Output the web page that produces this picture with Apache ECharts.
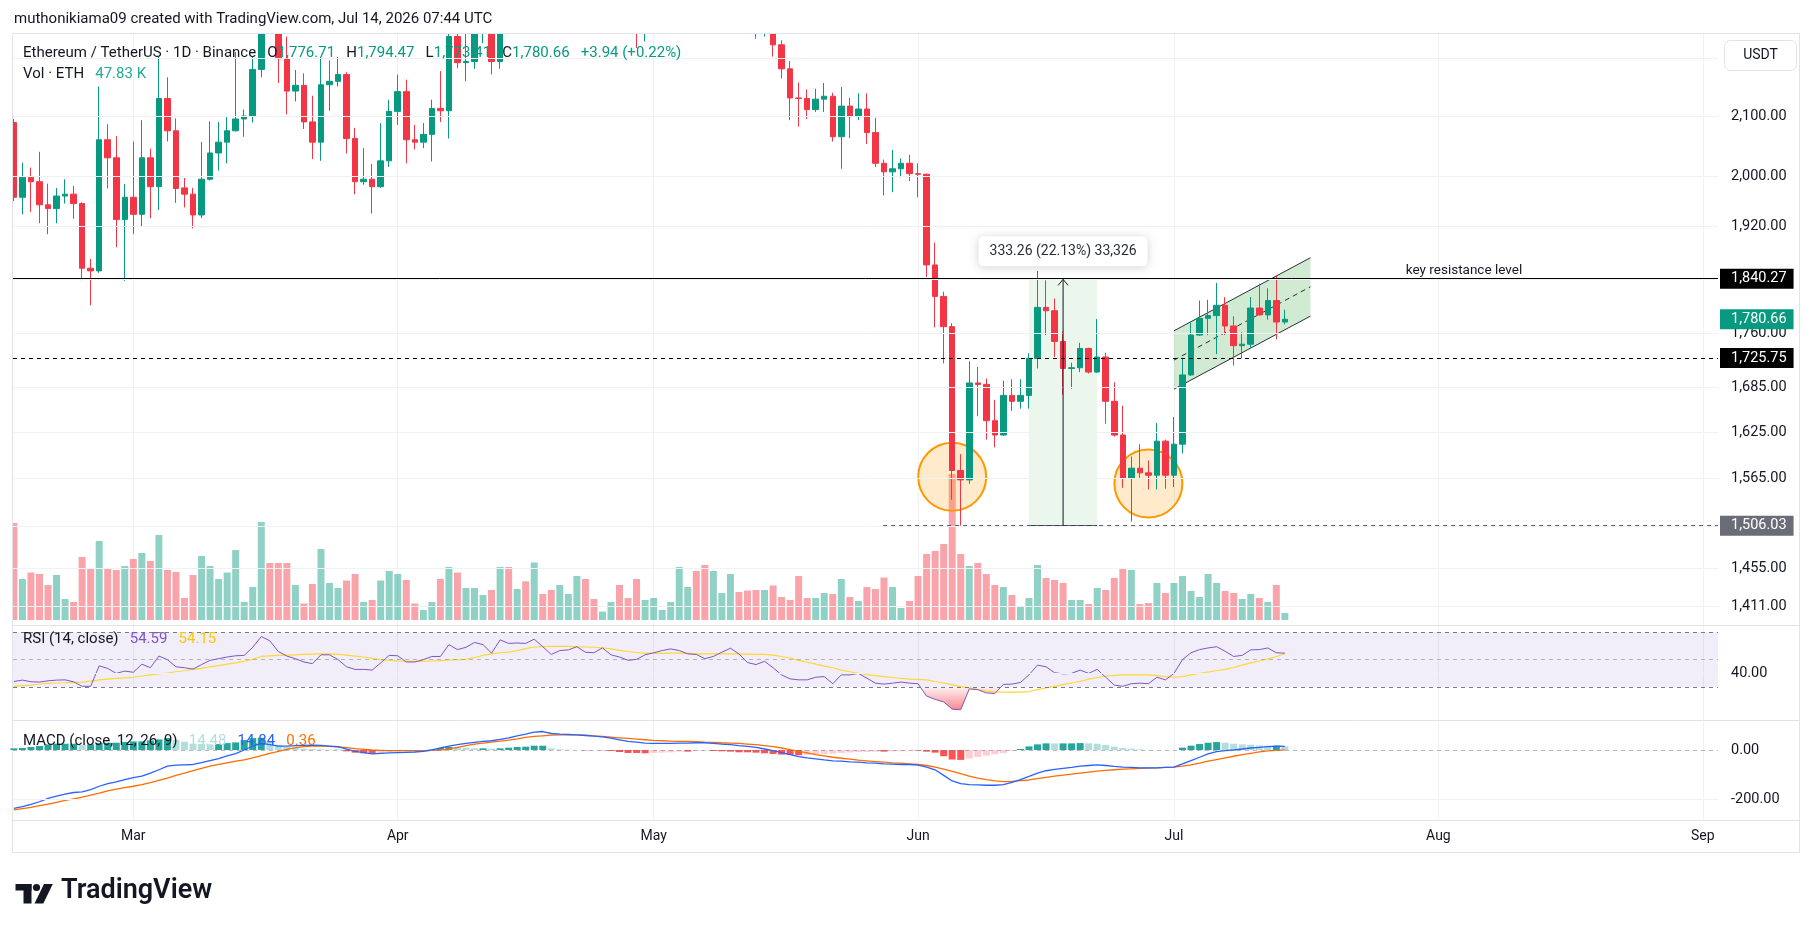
<!DOCTYPE html>
<html>
<head>
<meta charset="utf-8">
<title>ETH/USDT 1D</title>
<script src="https://cdn.jsdelivr.net/npm/echarts@6.0.0/dist/echarts.min.js"></script>
<style>
html,body{margin:0;padding:0;background:#ffffff;}
#chart{width:1814px;height:930px;}
</style>
</head>
<body>
<div id="chart"></div>
<script>
// ================= DATA =================
// day index 0 = 2026-02-15, one bar per day
const monthTickIdx = [14, 45, 75, 106, 136, 167, 198];
const monthLabels = ['Mar', 'Apr', 'May', 'Jun', 'Jul', 'Aug', 'Sep'];

const opens = [2089,1966,1998,1991,1954,1948,1968,1971,1956,1856, 1852,2060,2030,1931,1966,1939,2030,1983,2130,2075,
  1981,1971,1938,1995,2038,2056,2075,2095,2100,2181, 2300,2275,2200,2143,2153,2090,2056,2154,2160,2172,
  2062,1991,1995,1983,2025,2108,2142,2060,2056,2069, 2113,2109,2240,2193,2195,2250,2254,2195,2268,2258,
  2272,2266,2330,2300,2268,2290,2296,2318,2295,2292, 2318,2322,2290,2268,2262,2290,2302,2318,2330,2345,
  2348,2325,2300,2318,2340,2362,2335,2290,2268,2276, 2225,2182,2131,2130,2111,2129,2134,2065,2117,2099,
  2112,2072,2021,2007,2012,2021,2004,2003,1861,1814, 1770,1575,1563,1691,1689,1640,1621,1674,1666,1674,
  1725,1798,1793,1749,1711,1712,1739,1706,1727,1666, 1621,1565,1578,1572,1569,1613,1569,1609,1702,1758,
  1782,1786,1801,1771,1743,1745,1797,1787,1808,1776.71];
const highs = [2095,2022,2014,2040,1988,1981,1995,1984,1958,1870, 2151,2086,2066,1987,2057,2093,2045,2203,2167,2096,
  1997,1981,2056,2091,2090,2098,2212,2111,2203,2320, 2330,2290,2240,2180,2174,2135,2203,2197,2203,2176,
  2080,2046,2020,2088,2128,2172,2163,2085,2088,2128, 2178,2262,2262,2250,2262,2275,2262,2280,2290,2285,
  2290,2345,2340,2310,2300,2310,2330,2325,2305,2330, 2335,2328,2298,2280,2300,2315,2326,2340,2372,2365,
  2360,2335,2330,2350,2378,2370,2345,2298,2290,2282, 2233,2196,2158,2146,2147,2157,2140,2150,2131,2139,
  2139,2097,2027,2043,2029,2035,2021,2004,1895,1821, 1775,1596,1721,1713,1697,1668,1694,1696,1696,1732,
  1852,1838,1811,1763,1719,1747,1740,1781,1733,1692, 1660,1593,1609,1588,1637,1615,1645,1726,1776,1808,
  1809,1834,1813,1785,1762,1813,1833,1826,1845,1794.47];
const lows = [1960,1939,1943,1925,1908,1925,1956,1932,1838,1801, 1849,1980,1888,1837,1908,1920,1933,1946,2057,1957,
  1950,1917,1933,1993,2009,2021,2074,2065,2089,2167, 2258,2157,2103,2125,2078,2028,2025,2109,2151,2037,
  1971,1986,1940,1981,2015,2085,2021,2044,2046,2024, 2090,2062,2183,2160,2182,2228,2172,2182,2250,2252,
  2255,2260,2290,2255,2258,2275,2285,2282,2278,2285, 2296,2280,2255,2219,2231,2275,2294,2308,2318,2330,
  2310,2285,2288,2305,2330,2320,2272,2236,2240,2204, 2165,2093,2082,2095,2107,2107,2057,2012,2063,2093,
  2053,2015,1969,1974,1998,1992,1966,1843,1769,1718, 1538,1506.03,1558,1646,1615,1605,1620,1653,1656,1656,
  1711,1758,1727,1675,1683,1706,1704,1705,1636,1619, 1553,1511,1565,1551,1551,1552,1554,1597,1701,1757,
  1758,1731,1758,1715,1725,1740,1786,1780,1752,1773.41];
const closes = [1966,1998,1991,1954,1948,1968,1971,1956,1856,1852, 2060,2030,1931,1966,1939,2030,1983,2130,2075,1980,
  1971,1938,1995,2038,2056,2075,2095,2100,2181,2300, 2275,2200,2143,2153,2090,2056,2154,2160,2172,2062,
  1991,1995,1983,2025,2108,2142,2060,2056,2069,2113, 2109,2240,2193,2195,2250,2254,2195,2268,2258,2272,
  2266,2330,2300,2268,2290,2296,2318,2295,2292,2318, 2322,2290,2268,2262,2290,2302,2318,2330,2345,2348,
  2325,2300,2318,2340,2362,2335,2290,2268,2276,2225, 2182,2131,2130,2111,2129,2134,2065,2117,2099,2112,
  2072,2021,2007,2012,2021,2004,2003,1861,1814,1770, 1575,1563,1691,1689,1640,1621,1674,1666,1674,1725,
  1798,1793,1749,1711,1712,1739,1706,1727,1666,1621, 1565,1578,1572,1569,1613,1569,1609,1702,1758,1782,
  1786,1801,1771,1743,1745,1797,1787,1808,1776.72,1780.66];
// volume in thousands of ETH
const volumesK = [662.5,280.0,324.4,314.2,239.1,307.4,143.4,122.9,430.3,348.3, 539.6,348.3,341.5,368.8,416.6,457.6,403.0,580.6,341.5,327.8,
  150.3,307.4,437.1,368.8,280.0,324.4,478.1,122.9,225.4,669.3, 389.3,389.3,389.3,239.1,112.7,245.9,484.9,252.7,218.6,269.8,
  314.2,122.9,136.6,269.8,334.7,314.2,273.2,112.7,68.3,122.9, 280.0,362.0,324.4,218.6,218.6,170.8,204.9,362.0,362.0,211.7,
  264.3,392.7,177.6,204.9,239.1,177.6,300.5,280.0,143.4,57.4, 122.9,239.1,150.3,280.0,136.6,150.3,68.3,122.9,362.0,225.4,
  334.7,375.7,334.7,184.4,314.2,191.2,201.5,204.9,204.9,235.6, 157.1,136.6,300.5,150.3,150.3,184.4,177.6,280.0,157.1,129.8,
  225.4,211.7,290.3,225.4,82.0,129.8,300.5,450.8,471.3,519.1, 997.2,450.8,368.8,389.3,314.2,239.1,225.4,170.8,95.6,150.3,
  375.7,286.9,273.2,252.7,136.6,136.6,109.3,218.6,204.9,286.9, 355.2,341.5,109.3,116.1,252.7,184.4,252.7,300.5,198.1,157.1,
  314.2,252.7,198.1,184.4,143.4,177.6,150.3,122.9,239.1,47.83];

const rsi = [34.0,35.0,33.8,33.6,34.5,35.0,35.2,33.8,30.5,30.5, 45.4,43.5,39.9,41.6,40.7,46.6,44.0,52.5,49.9,44.7,
  44.0,43.0,46.3,49.4,50.6,51.8,52.7,53.0,58.9,66.7, 63.6,55.8,52.5,50.6,48.2,47.0,53.4,53.4,49.9,44.7,
  42.8,42.8,42.3,47.5,53.0,52.7,48.2,48.2,49.9,52.2, 52.2,60.8,57.2,58.9,62.4,60.8,54.6,64.3,61.7,62.0,
  61.7,64.8,59.3,53.7,56.5,57.0,59.3,55.3,54.9,58.4, 53.4,51.8,49.4,50.1,53.4,54.9,56.5,57.7,56.5,54.1,
  53.7,50.6,52.2,55.3,58.2,54.1,47.8,46.3,48.7,44.0, 38.8,35.9,35.2,35.2,37.1,37.6,32.4,38.8,38.8,39.9,
  36.4,32.8,32.1,32.8,33.6,32.8,32.4,23.4,21.0,19.1, 13.9,13.4,28.6,28.1,25.7,25.3,31.9,32.1,33.3,38.8,
  45.9,44.7,40.4,39.5,39.9,42.3,39.9,42.8,37.1,31.4, 30.5,32.4,32.8,32.4,37.1,35.2,39.9,49.9,54.9,57.2,
  58.4,59.3,56.0,52.2,53.0,57.0,57.2,58.4,54.9,54.59];
const rsiMA = [30.5,31.0,31.4,32.2,32.7,32.9,33.1,33.4,33.6,34.3, 35.2,35.7,36.2,36.6,37.1,38.0,38.8,39.5,40.2,41.1,
  41.8,42.8,43.5,44.7,45.6,46.6,47.5,48.7,50.1,52.2, 52.7,53.0,53.2,53.4,53.7,53.9,54.1,54.1,53.7,53.2,
  52.5,51.8,50.8,49.9,49.4,48.9,48.7,48.7,48.7,48.9, 49.2,49.6,49.9,50.1,51.3,53.0,54.1,54.9,55.3,56.5,
  57.9,59.1,59.3,59.6,59.6,59.6,59.3,59.1,58.9,58.4, 57.7,56.7,55.8,55.1,54.4,54.4,54.4,54.6,54.6,54.4,
  54.1,54.1,54.1,54.1,54.1,54.1,53.9,53.7,53.7,53.2, 52.2,51.1,49.4,48.0,46.6,45.2,44.0,42.3,41.1,39.9,
  39.0,38.3,37.6,36.9,36.2,35.7,35.5,35.2,34.0,32.9, 31.7,30.3,29.3,28.1,27.2,26.5,26.3,26.3,26.3,26.7,
  28.1,29.3,30.5,31.7,32.9,34.0,35.7,36.9,37.8,38.5, 38.8,38.8,38.8,38.8,38.3,37.6,37.1,37.6,38.8,39.9,
  40.9,41.8,42.8,44.2,45.9,47.5,48.9,50.4,52.2,54.15];

const macdLine = [-237.5,-230.8,-221.4,-210.7,-197.3,-187.9,-179.8,-173.1,-170.4,-161.0, -147.6,-136.9,-130.2,-120.8,-112.7,-106.0,-93.9,-80.5,-65.8,-61.7,
  -60.4,-59.0,-51.0,-42.9,-34.9,-24.2,-14.8,0.0,16.1,26.8, 21.5,16.1,16.1,17.4,18.8,20.1,18.8,16.1,13.4,4.0,
  -5.4,-10.7,-16.1,-13.4,-12.1,-10.7,-9.4,-8.1,-5.4,0.0, 8.1,16.1,21.5,26.8,30.9,34.9,37.6,42.9,49.7,57.7,
  64.4,72.5,75.2,67.1,64.4,63.1,61.7,59.0,56.4,53.7, 48.3,41.6,34.9,32.2,28.2,26.8,26.8,26.8,28.2,28.2,
  29.5,29.5,26.8,24.2,21.5,17.4,14.8,10.7,4.0,-2.7, -10.7,-18.8,-26.8,-32.2,-36.2,-40.3,-44.3,-45.6,-48.3,-49.7,
  -52.3,-53.7,-56.4,-57.7,-59.0,-59.0,-61.7,-69.8,-80.5,-103.3, -126.1,-136.9,-140.9,-142.3,-143.6,-143.6,-140.9,-131.5,-120.8,-107.4,
  -93.9,-84.5,-79.2,-75.2,-71.1,-65.8,-63.1,-60.4,-63.1,-67.1, -69.8,-71.1,-72.5,-72.5,-72.5,-71.1,-69.8,-56.4,-42.9,-29.5,
  -16.1,-6.7,-2.7,0.0,4.0,8.1,10.7,13.4,16.1,14.84];
const signalLine = [-244.2,-238.9,-233.5,-226.8,-220.1,-213.4,-205.3,-198.6,-191.9,-183.9, -175.8,-166.4,-159.7,-153.0,-147.6,-140.9,-132.9,-123.5,-114.1,-103.3,
  -93.9,-84.5,-75.2,-65.8,-59.0,-52.3,-45.6,-40.3,-32.2,-22.8, -13.4,-5.4,2.7,9.4,13.4,16.1,16.1,14.8,12.1,9.4,
  5.4,2.7,0.0,-1.3,-2.7,-2.7,-2.7,-2.7,-2.7,-1.3, 0.0,4.0,10.7,17.4,24.2,28.2,32.2,36.2,40.3,45.6,
  51.0,55.0,57.7,60.4,61.7,61.7,61.7,60.4,57.7,55.0, 52.3,49.7,47.0,44.3,41.6,38.9,37.6,36.2,34.9,34.9,
  33.6,32.2,30.9,29.5,28.2,26.8,24.2,21.5,17.4,13.4, 8.1,1.3,-5.4,-12.1,-18.8,-24.2,-29.5,-33.6,-37.6,-41.6,
  -44.3,-47.0,-49.7,-52.3,-53.7,-56.4,-59.0,-63.1,-69.8,-77.8, -87.2,-96.6,-106.0,-114.1,-120.8,-126.1,-128.8,-127.5,-124.8,-122.1,
  -116.8,-111.4,-106.0,-102.0,-98.0,-93.9,-89.9,-85.9,-83.2,-80.5, -77.8,-76.5,-75.2,-73.8,-72.5,-71.1,-69.8,-65.8,-60.4,-53.7,
  -45.6,-38.9,-32.2,-25.5,-18.8,-13.4,-8.1,-4.0,-1.3,0.36];
const macdHist = [6.7,8.1,12.1,16.1,22.8,25.5,25.5,25.5,21.5,22.9, 28.2,29.5,29.5,32.2,34.9,34.9,38.9,43.0,48.3,41.6,
  33.5,25.5,24.2,22.9,24.1,28.1,30.8,40.3,48.3,49.6, 34.9,21.5,13.4,8.0,5.4,4.0,2.7,1.3,1.3,-5.4,
  -10.8,-13.4,-16.1,-12.1,-9.4,-8.0,-6.7,-5.4,-2.7,1.3, 8.1,12.1,10.8,9.4,6.7,6.7,5.4,6.7,9.4,12.1,
  13.4,17.5,17.5,6.7,2.7,1.4,0.0,-1.4,-1.3,-1.3, -4.0,-8.1,-12.1,-12.1,-13.4,-12.1,-10.8,-9.4,-6.7,-6.7,
  -4.1,-2.7,-4.1,-5.3,-6.7,-9.4,-9.4,-10.8,-13.4,-16.1, -18.8,-20.1,-21.4,-20.1,-17.4,-16.1,-14.8,-12.0,-10.7,-8.1,
  -8.0,-6.7,-6.7,-5.4,-5.3,-2.6,-2.7,-6.7,-10.7,-25.5, -38.9,-40.3,-34.9,-28.2,-22.8,-17.5,-12.1,-4.0,4.0,14.7,
  22.9,26.9,26.8,26.8,26.9,28.1,26.8,25.5,20.1,13.4, 8.0,5.4,2.7,1.3,0.0,0.0,0.0,9.4,17.5,24.2,
  29.5,32.2,29.5,25.5,22.8,21.5,18.8,17.4,17.4,14.48];

const priceTicks = [2200, 2100, 2000, 1920, 1840, 1760, 1685, 1625, 1565, 1505, 1455, 1411];
const rsiLevels = { upper: 70, middle: 50, lower: 30, grid: 40 };
const macdTicks = [0, -200];

// drawings
const resistanceLevel = 1840.27;
const supportLevel = 1725.75;
const swingLow = 1506.03;
const swingLowStartIdx = 101.9;
const resistanceLabelIdx = 170;
const rangeStartIdx = 119, rangeEndIdx = 127, rangeMidIdx = 123;
const rangeLow = 1506.03, rangeHigh = 1839.29;
const channelIdx = [136, 152];
const channelTop = [1764.1, 1871.9];
const channelMid = [1722.6, 1828.3];
const channelBottom = [1682.5, 1785.3];
const circleCenters = [[110, 1566.9], [133, 1558.4]];

// ================= CHART =================
const UP = '#089981', DOWN = '#f23645', TXT = '#131722', GRID = '#f0f1f3', FONT = 'Roboto';
const fmt2 = v => Number(v).toLocaleString('en-US', { minimumFractionDigits: 2, maximumFractionDigits: 2 });
const n = closes.length;
const last = n - 1;
const plotWidth = 1705;
const xMin = -0.105, xMax = -0.105 + plotWidth / 8.53;
const priceMin = 1389.4, priceMax = 2246.4;

const candleData = opens.map((o, i) => [i, o, closes[i], lows[i], highs[i]]);
const volData = volumesK.map((v, i) => [i, v]);
const specialLevels = [resistanceLevel, supportLevel, swingLow, closes[last]];
const tickHidden = t => t / priceMax > 0.97 || specialLevels.some(s => Math.abs(Math.log(t / s)) < 0.008);

const chg = closes[last] - closes[last - 1];
const pct = chg / closes[last - 1] * 100;
const sgn = chg >= 0 ? '+' : '-';
const measureDiff = rangeHigh - rangeLow;
const measureText = fmt2(measureDiff) + ' (' + (measureDiff / rangeLow * 100).toFixed(2) + '%) ' +
  Math.round(measureDiff * 100).toLocaleString('en-US');

function xAxisFor(g) {
  return {
    type: 'value', gridIndex: g, min: xMin, max: xMax,
    axisLine: { show: false },
    axisTick: { show: false, customValues: monthTickIdx },
    axisLabel: {
      show: g === 2, customValues: monthTickIdx, color: TXT, fontSize: 14, fontFamily: FONT, margin: 9,
      formatter: v => monthLabels[monthTickIdx.indexOf(v)]
    },
    splitLine: { show: true, lineStyle: { color: GRID, width: 1 } }
  };
}
const hiddenY = (g, extra) => Object.assign({
  gridIndex: g, axisLine: { show: false }, axisTick: { show: false },
  axisLabel: { show: false }, splitLine: { show: false }
}, extra);

const tickLabel = (val) => ({ show: true, position: 'end', distance: 13, color: TXT, fontSize: 14.5, fontFamily: FONT, formatter: () => fmt2(val) });
const boxLabel = (bg, val) => ({
  show: true, position: 'end', distance: 2, color: '#ffffff', fontSize: 14.5, fontFamily: FONT, lineHeight: 16,
  backgroundColor: bg, padding: [2, 7, 2, 11], formatter: () => fmt2(val)
});

const option = {
  animation: false,
  backgroundColor: '#ffffff',
  textStyle: { fontFamily: FONT },
  grid: [
    { left: 13, top: 33, width: plotWidth, height: 592 },
    { left: 13, top: 626, width: plotWidth, height: 94 },
    { left: 13, top: 721, width: plotWidth, height: 99 }
  ],
  xAxis: [xAxisFor(0), xAxisFor(1), xAxisFor(2)],
  yAxis: [
    hiddenY(0, { type: 'log', logBase: 10, min: priceMin, max: priceMax }),
    hiddenY(0, { type: 'value', min: -34, max: 4009 }),
    hiddenY(1, { type: 'value', min: 6.0, max: 74.36 }),
    hiddenY(2, { type: 'value', min: -285, max: 118 })
  ],
  series: [
    // price grid lines + tick labels
    {
      type: 'line', xAxisIndex: 0, yAxisIndex: 0, z: 0, silent: true, clip: false,
      data: closes.map((c, i) => [i, c]), symbol: 'none', lineStyle: { opacity: 0 },
      markLine: {
        silent: true, symbol: ['none', 'none'], animation: false,
        lineStyle: { color: GRID, width: 1, type: 'solid' },
        data: priceTicks.map(t => ({ yAxis: t, label: tickHidden(t) ? { show: false } : tickLabel(t) }))
      }
    },
    // volume
    {
      type: 'bar', xAxisIndex: 0, yAxisIndex: 1, z: 1, barWidth: 7, silent: true,
      data: volData,
      itemStyle: { color: p => closes[p.dataIndex] >= opens[p.dataIndex] ? 'rgba(8,153,129,0.45)' : 'rgba(242,54,69,0.45)' }
    },
    // date/price range box
    {
      type: 'custom', xAxisIndex: 0, yAxisIndex: 0, z: 1, silent: true, data: [0],
      renderItem: (params, api) => {
        const a = api.coord([rangeStartIdx, rangeHigh]);
        const b = api.coord([rangeEndIdx, rangeLow]);
        return {
          type: 'group', children: [
            { type: 'rect', shape: { x: a[0], y: a[1], width: b[0] - a[0], height: b[1] - a[1] }, style: { fill: 'rgba(76,175,80,0.11)' } },
            { type: 'line', shape: { x1: a[0], y1: b[1], x2: b[0], y2: b[1] }, style: { stroke: TXT, lineWidth: 1 } }
          ]
        };
      }
    },
    // parallel channel
    {
      type: 'custom', xAxisIndex: 0, yAxisIndex: 0, z: 1, silent: true, data: [0],
      renderItem: (params, api) => {
        const tl = api.coord([channelIdx[0], channelTop[0]]), tr = api.coord([channelIdx[1], channelTop[1]]);
        const bl = api.coord([channelIdx[0], channelBottom[0]]), br = api.coord([channelIdx[1], channelBottom[1]]);
        const ml = api.coord([channelIdx[0], channelMid[0]]), mr = api.coord([channelIdx[1], channelMid[1]]);
        return {
          type: 'group', children: [
            { type: 'polygon', shape: { points: [tl, tr, br, bl] }, style: { fill: 'rgba(76,175,80,0.26)' } },
            { type: 'line', shape: { x1: tl[0], y1: tl[1], x2: tr[0], y2: tr[1] }, style: { stroke: '#2a2e39', lineWidth: 1 } },
            { type: 'line', shape: { x1: bl[0], y1: bl[1], x2: br[0], y2: br[1] }, style: { stroke: '#2a2e39', lineWidth: 1 } },
            { type: 'line', shape: { x1: ml[0], y1: ml[1], x2: mr[0], y2: mr[1] }, style: { stroke: '#2a2e39', lineWidth: 1, lineDash: [5, 4] } }
          ]
        };
      }
    },
    // circles
    {
      type: 'scatter', xAxisIndex: 0, yAxisIndex: 0, z: 2, silent: true, symbol: 'circle', symbolSize: 68,
      data: circleCenters,
      itemStyle: { color: 'rgba(255,152,0,0.2)', borderColor: '#ff9800', borderWidth: 2, opacity: 1 }
    },
    // candles
    {
      type: 'candlestick', xAxisIndex: 0, yAxisIndex: 0, z: 3, silent: true, barWidth: 6, clip: true,
      encode: { x: 0, y: [1, 2, 3, 4] },
      data: candleData,
      itemStyle: { color: UP, color0: DOWN, borderColor: UP, borderColor0: DOWN, borderWidth: 1 }
    },
    // horizontal levels + price boxes
    {
      type: 'line', xAxisIndex: 0, yAxisIndex: 0, z: 4, silent: true, clip: false,
      data: closes.map((c, i) => [i, c]), symbol: 'none', lineStyle: { opacity: 0 },
      markLine: {
        silent: true, symbol: ['none', 'none'], animation: false,
        data: [
          { yAxis: resistanceLevel, lineStyle: { color: '#000000', width: 1, type: 'solid' }, label: boxLabel('#000000', resistanceLevel) },
          { yAxis: supportLevel, lineStyle: { color: '#000000', width: 1, type: [4, 4] }, label: boxLabel('#000000', supportLevel) },
          [
            { coord: [swingLowStartIdx, swingLow], lineStyle: { color: '#5d606b', width: 1, type: [4, 4] }, label: boxLabel('#6a6d78', swingLow) },
            { coord: [xMax, swingLow] }
          ],
          { yAxis: closes[last], lineStyle: { color: 'rgba(0,0,0,0)', width: 0 }, label: boxLabel(UP, closes[last]) }
        ]
      }
    },
    // arrow, measurement label, text
    {
      type: 'custom', xAxisIndex: 0, yAxisIndex: 0, z: 6, silent: true, data: [0],
      renderItem: (params, api) => {
        const base = api.coord([rangeMidIdx, rangeLow]);
        const tip = api.coord([rangeMidIdx, rangeHigh]);
        const kr = api.coord([resistanceLabelIdx, resistanceLevel]);
        return {
          type: 'group', children: [
            { type: 'line', shape: { x1: base[0], y1: base[1], x2: tip[0], y2: tip[1] }, style: { stroke: TXT, lineWidth: 1 } },
            { type: 'polyline', shape: { points: [[tip[0] - 5, tip[1] + 6], [tip[0], tip[1]], [tip[0] + 5, tip[1] + 6]] }, style: { stroke: TXT, lineWidth: 1, fill: 'none' } },
            {
              type: 'text', x: tip[0], y: tip[1] - 28,
              style: {
                text: measureText, align: 'center', verticalAlign: 'middle', font: '14px ' + FONT, fill: '#2a2e39',
                backgroundColor: '#ffffff', padding: [8, 11, 8, 11], borderRadius: 5,
                shadowBlur: 8, shadowColor: 'rgba(0,0,0,0.18)', shadowOffsetY: 1
              }
            },
            { type: 'text', x: kr[0], y: kr[1] - 1, style: { text: 'key resistance level', align: 'center', verticalAlign: 'bottom', font: '13.5px ' + FONT, fill: TXT } }
          ]
        };
      }
    },
    // RSI oversold gradient fill
    {
      type: 'custom', xAxisIndex: 1, yAxisIndex: 2, z: 1, silent: true, data: [0],
      renderItem: (params, api) => {
        const lv = rsiLevels.lower;
        const pts = [api.coord([0, lv])];
        for (let i = 0; i < rsi.length; i++) {
          if (i > 0) {
            const a = rsi[i - 1], b = rsi[i];
            if ((a - lv) * (b - lv) < 0) pts.push(api.coord([i - 1 + (a - lv) / (a - b), lv]));
          }
          pts.push(api.coord([i, Math.min(rsi[i], lv)]));
        }
        pts.push(api.coord([rsi.length - 1, lv]));
        return {
          type: 'polygon', shape: { points: pts },
          style: { fill: new echarts.graphic.LinearGradient(0, 0, 0, 1, [{ offset: 0, color: 'rgba(242,54,69,0.06)' }, { offset: 1, color: 'rgba(242,54,69,0.6)' }]) }
        };
      }
    },
    // RSI
    {
      type: 'line', xAxisIndex: 1, yAxisIndex: 2, z: 3, silent: true, symbol: 'none',
      data: rsi.map((v, i) => [i, v]), lineStyle: { color: '#7e57c2', width: 1 },
      markArea: { silent: true, itemStyle: { color: 'rgba(126,87,194,0.1)' }, data: [[{ yAxis: rsiLevels.upper }, { yAxis: rsiLevels.lower }]] },
      markLine: {
        silent: true, symbol: ['none', 'none'], animation: false,
        data: [
          { yAxis: rsiLevels.grid, lineStyle: { color: GRID, width: 1, type: 'solid' }, label: tickLabel(rsiLevels.grid) },
          { yAxis: rsiLevels.upper, lineStyle: { color: '#787b86', width: 1, type: [4, 4] }, label: { show: false } },
          { yAxis: rsiLevels.middle, lineStyle: { color: 'rgba(120,123,134,0.5)', width: 1, type: [4, 4] }, label: { show: false } },
          { yAxis: rsiLevels.lower, lineStyle: { color: '#787b86', width: 1, type: [4, 4] }, label: { show: false } }
        ]
      }
    },
    {
      type: 'line', xAxisIndex: 1, yAxisIndex: 2, z: 2, silent: true, symbol: 'none',
      data: rsiMA.map((v, i) => [i, v]), lineStyle: { color: '#fdd835', width: 1.2 }
    },
    // MACD histogram
    {
      type: 'bar', xAxisIndex: 2, yAxisIndex: 3, z: 1, barWidth: 7, silent: true,
      data: macdHist.map((v, i) => [i, v]),
      itemStyle: {
        color: p => {
          const i = p.dataIndex, v = macdHist[i], pv = i > 0 ? macdHist[i - 1] : v;
          if (v >= 0) return v >= pv ? '#26a69a' : '#b2dfdb';
          return v <= pv ? '#ff5252' : '#ffcdd2';
        }
      },
      markLine: {
        silent: true, symbol: ['none', 'none'], animation: false,
        data: [
          { yAxis: macdTicks[0], lineStyle: { color: 'rgba(120,123,134,0.55)', width: 1, type: [4, 4] }, label: tickLabel(macdTicks[0]) },
          { yAxis: macdTicks[1], lineStyle: { color: GRID, width: 1, type: 'solid' }, label: tickLabel(macdTicks[1]) }
        ]
      }
    },
    {
      type: 'line', xAxisIndex: 2, yAxisIndex: 3, z: 3, silent: true, symbol: 'none',
      data: macdLine.map((v, i) => [i, v]), lineStyle: { color: '#2962ff', width: 1.3 }
    },
    {
      type: 'line', xAxisIndex: 2, yAxisIndex: 3, z: 2, silent: true, symbol: 'none',
      data: signalLine.map((v, i) => [i, v]), lineStyle: { color: '#ff6d00', width: 1.3 }
    }
  ],
  graphic: [
    // frame & separators
    { type: 'rect', z: -10, shape: { x: 12.5, y: 33.5, width: 1787, height: 819 }, style: { fill: 'none', stroke: '#e0e3eb', lineWidth: 1 } },
    { type: 'line', z: -10, shape: { x1: 12.5, y1: 625.5, x2: 1799.5, y2: 625.5 }, style: { stroke: '#e0e3eb', lineWidth: 1 } },
    { type: 'line', z: -10, shape: { x1: 12.5, y1: 720.5, x2: 1799.5, y2: 720.5 }, style: { stroke: '#e0e3eb', lineWidth: 1 } },
    { type: 'line', z: -10, shape: { x1: 12.5, y1: 820.5, x2: 1799.5, y2: 820.5 }, style: { stroke: '#e0e3eb', lineWidth: 1 } },
    // masks that clip marks at the pane edges (top and left)
    { type: 'rect', zlevel: 1, z: 1, shape: { x: 0, y: 0, width: 1814, height: 33 }, style: { fill: '#ffffff' } },
    { type: 'rect', zlevel: 1, z: 1, shape: { x: 0, y: 33, width: 12.5, height: 600 }, style: { fill: '#ffffff' } },
    { type: 'line', zlevel: 1, z: 2, shape: { x1: 12.5, y1: 33.5, x2: 1799.5, y2: 33.5 }, style: { stroke: '#e0e3eb', lineWidth: 1 } },
    { type: 'line', zlevel: 1, z: 2, shape: { x1: 12.5, y1: 33.5, x2: 12.5, y2: 633 }, style: { stroke: '#e0e3eb', lineWidth: 1 } },
    // header
    { type: 'text', zlevel: 1, z: 3, left: 14, top: 12, style: { text: 'muthonikiama09 created with TradingView.com, Jul 14, 2026 07:44 UTC', font: '15px ' + FONT, fill: TXT } },
    {
      type: 'text', left: 23, top: 46, z: 20,
      style: {
        text: '{t|Ethereum / TetherUS · 1D · Binance}   {t|O}{v|' + fmt2(opens[last]) + '}   {t|H}{v|' + fmt2(highs[last]) +
          '}   {t|L}{v|' + fmt2(lows[last]) + '}   {t|C}{v|' + fmt2(closes[last]) + '}   {v|' + sgn + Math.abs(chg).toFixed(2) +
          ' (' + sgn + Math.abs(pct).toFixed(2) + '%)}',
        font: '15px ' + FONT,
        rich: { t: { fill: TXT, font: '15px ' + FONT }, v: { fill: UP, font: '15px ' + FONT } }
      }
    },
    {
      type: 'text', left: 23, top: 67, z: 20,
      style: {
        text: '{t|Vol · ETH}   {v|' + volumesK[last].toFixed(2) + ' K}', font: '15px ' + FONT,
        rich: { t: { fill: TXT, font: '15px ' + FONT }, v: { fill: '#22ab94', font: '15px ' + FONT } }
      }
    },
    {
      type: 'text', left: 23, top: 632, z: 20,
      style: {
        text: '{t|RSI (14, close)}   {p|' + rsi[last].toFixed(2) + '}   {y|' + rsiMA[last].toFixed(2) + '}', font: '15px ' + FONT,
        rich: { t: { fill: TXT, font: '15px ' + FONT }, p: { fill: '#7e57c2', font: '15px ' + FONT }, y: { fill: '#f9c80e', font: '15px ' + FONT } }
      }
    },
    {
      type: 'text', left: 23, top: 734, z: 20,
      style: {
        text: '{t|MACD (close, 12, 26, 9)}   {h|' + macdHist[last].toFixed(2) + '}   {b|' + macdLine[last].toFixed(2) + '}   {o|' + signalLine[last].toFixed(2) + '}',
        font: '15px ' + FONT,
        rich: { t: { fill: TXT, font: '15px ' + FONT }, h: { fill: '#b2dfdb', font: '15px ' + FONT }, b: { fill: '#2962ff', font: '15px ' + FONT }, o: { fill: '#ff6d00', font: '15px ' + FONT } }
      }
    },
    // currency box
    { type: 'rect', z: 20, shape: { x: 1724.5, y: 40.5, width: 72, height: 30, r: 6 }, style: { fill: '#ffffff', stroke: '#e0e3eb', lineWidth: 1 } },
    { type: 'text', z: 21, x: 1760.5, y: 55.5, style: { text: 'USDT', align: 'center', verticalAlign: 'middle', font: '14px ' + FONT, fill: TXT } },
    // TradingView logo
    { type: 'rect', z: 20, shape: { x: 15.5, y: 884, width: 16, height: 6.5 }, style: { fill: TXT } },
    { type: 'rect', z: 20, shape: { x: 23.5, y: 884, width: 8, height: 19.5 }, style: { fill: TXT } },
    { type: 'circle', z: 20, shape: { cx: 36.5, cy: 887.5, r: 3.6 }, style: { fill: TXT } },
    { type: 'polygon', z: 20, shape: { points: [[34.5, 903.5], [44, 884], [52.8, 884], [43.3, 903.5]] }, style: { fill: TXT } },
    { type: 'text', z: 20, left: 61, top: 878, style: { text: 'TradingView', font: '600 27px ' + FONT, fill: TXT } }
  ]
};

const chart = echarts.init(document.getElementById('chart'), null, { renderer: 'canvas', width: 1814, height: 930 });
chart.setOption(option);
</script>
</body>
</html>
